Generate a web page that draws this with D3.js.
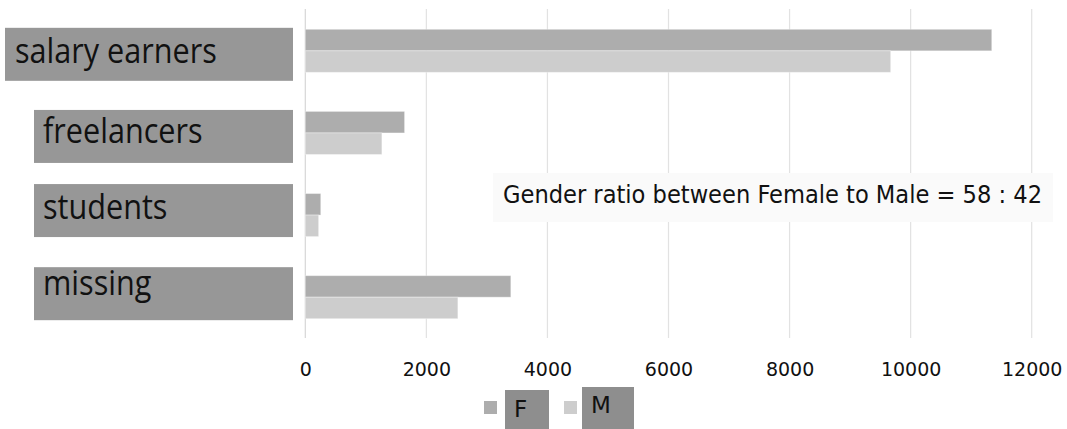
<!DOCTYPE html>
<html>
<head>
<meta charset="utf-8">
<script src="https://cdn.jsdelivr.net/npm/d3@7"></script>
<style>
  html, body { margin: 0; padding: 0; background: #ffffff; }
  svg { display: block; }
</style>
</head>
<body>
<svg id="chart" width="1067" height="429"></svg>
<script>
// Workforce categories split by gender
const categories = ["salary earners", "freelancers", "students", "missing"];
const series = ["F", "M"];
const femaleValues = [11340, 1640, 255, 3395];
const maleValues = [9670, 1265, 220, 2520];
const xTicks = [0, 2000, 4000, 6000, 8000, 10000, 12000];
const note = "Gender ratio between Female to Male = 58 : 42";

// Layout of the hand-placed category label boxes (offsets from band centre)
const labelLayout = [
  { left: 5,  textX: 15, top: -23, bottom: 30, baseline: 12.5 },
  { left: 34, textX: 43, top: -23, bottom: 30, baseline: 10.5 },
  { left: 34, textX: 43, top: -31, bottom: 22, baseline: 3.5 },
  { left: 34, textX: 43, top: -30, bottom: 23, baseline: -2 }
];

const colors = { F: "#adadad", M: "#cdcdcd" };

const svg = d3.select("#chart");

const x = d3.scaleLinear().domain([0, 12000]).range([305.3, 1031.7]);
const y = d3.scaleBand().domain(categories).range([10, 338])
  .paddingInner(0.476).paddingOuter(0.235);
const ySub = d3.scaleBand().domain(series).range([0, y.bandwidth()]);

// Vertical gridlines
svg.append("g")
  .selectAll("line")
  .data(xTicks)
  .join("line")
  .attr("x1", d => x(d)).attr("x2", d => x(d))
  .attr("y1", 9).attr("y2", 338)
  .attr("stroke", d => d === 0 ? "#d6d6d6" : "#e2e2e2")
  .attr("stroke-width", 1.2);

// Bars
const rows = categories.map((c, i) => ({ c, F: femaleValues[i], M: maleValues[i] }));
const groups = svg.append("g").selectAll("g")
  .data(rows)
  .join("g")
  .attr("transform", d => `translate(0,${y(d.c)})`);

groups.selectAll("rect")
  .data(d => series.map(s => ({ s, v: d[s] })))
  .join("rect")
  .attr("x", x(0))
  .attr("y", d => ySub(d.s))
  .attr("width", d => x(d.v) - x(0))
  .attr("height", ySub.bandwidth())
  .attr("fill", d => colors[d.s])
  .attr("stroke", "rgba(255,255,255,0.35)")
  .attr("stroke-width", 1);

// X axis tick labels
const xAxis = d3.axisBottom(x).tickValues(xTicks).tickFormat(d3.format("d"))
  .tickSize(0).tickPadding(0);
const axisG = svg.append("g").attr("transform", "translate(0,356)").call(xAxis);
axisG.select(".domain").remove();
axisG.selectAll("text")
  .attr("font-family", "'DejaVu Sans', Verdana, sans-serif")
  .attr("font-size", 19)
  .attr("fill", "#111")
  .attr("dy", "1.05em");

// Category label boxes
const labels = svg.append("g").selectAll("g")
  .data(categories)
  .join("g");

labels.append("rect")
  .attr("x", (d, i) => labelLayout[i].left)
  .attr("y", (d) => y(d) + y.bandwidth() / 2)
  .attr("transform", (d, i) => `translate(0,${labelLayout[i].top})`)
  .attr("width", (d, i) => 293 - labelLayout[i].left)
  .attr("height", (d, i) => labelLayout[i].bottom - labelLayout[i].top)
  .attr("fill", "#979797");

// Labels use a slightly narrowed Open Sans
labels.append("text")
  .attr("x", (d, i) => labelLayout[i].textX)
  .attr("y", (d, i) => y(d) + y.bandwidth() / 2 + labelLayout[i].baseline)
  .attr("font-family", "'Open Sans', sans-serif")
  .attr("font-size", 34)
  .attr("fill", "#111")
  .text(d => d)
  .each(function () {
    const w = this.getComputedTextLength();
    d3.select(this).attr("textLength", w * 0.9).attr("lengthAdjust", "spacingAndGlyphs");
  });

// Ratio note
const noteG = svg.append("g");
noteG.append("rect")
  .attr("x", 493).attr("y", 173)
  .attr("width", 560).attr("height", 49)
  .attr("fill", "#fafafa");
noteG.append("text")
  .attr("x", 503).attr("y", 203)
  .attr("font-family", "'DejaVu Sans Condensed', 'DejaVu Sans', sans-serif")
  .attr("font-size", 24)
  .attr("textLength", 539)
  .attr("lengthAdjust", "spacingAndGlyphs")
  .attr("fill", "#111")
  .text(note);

// Legend
const legendItems = [
  { s: "F", sw: 484, box: [505, 390, 44], tx: 514, ty: 417 },
  { s: "M", sw: 564, box: [582, 387, 52], tx: 591, ty: 413 }
];
const leg = svg.append("g").selectAll("g").data(legendItems).join("g");
leg.append("rect")
  .attr("x", d => d.sw).attr("y", 401)
  .attr("width", 13).attr("height", 13)
  .attr("fill", d => colors[d.s]);
leg.append("rect")
  .attr("x", d => d.box[0]).attr("y", d => d.box[1])
  .attr("width", d => d.box[2]).attr("height", d => 429 - d.box[1])
  .attr("fill", "#8e8e8e");
leg.append("text")
  .attr("x", d => d.tx).attr("y", d => d.ty)
  .attr("font-family", "'DejaVu Sans', sans-serif")
  .attr("font-size", 23)
  .attr("fill", "#111")
  .text(d => d.s);
</script>
</body>
</html>
